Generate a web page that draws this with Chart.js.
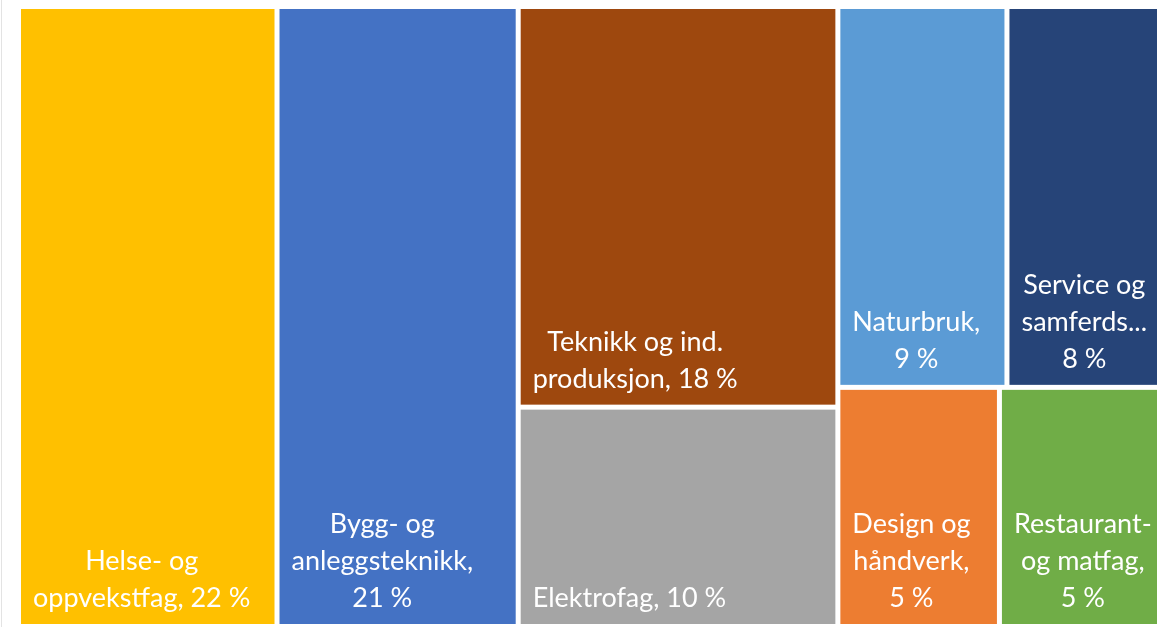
<!DOCTYPE html>
<html>
<head>
<meta charset="utf-8">
<script src="https://cdn.jsdelivr.net/npm/chart.js@4.4.1/dist/chart.umd.min.js"></script>
<style>
    html, body { margin: 0; padding: 0; background: #ffffff; overflow: hidden; }
    #frame { position: absolute; left: 1px; top: 0; width: 1px; height: 640px; background: #e3e3e3; }
    #wrap { position: absolute; left: 0; top: 0; width: 1170px; height: 630px; }
</style>
</head>
<body>
<div id="frame"></div>
<div id="wrap"><canvas id="treemap" width="1170" height="630"></canvas></div>
<script>
// Andel elever per utdanningsprogram (prosent)
// names as they are shown in the tiles (Excel cut the long one)
const categories = [
    'Helse- og oppvekstfag',
    'Bygg- og anleggsteknikk',
    'Teknikk og ind. produksjon',
    'Elektrofag',
    'Naturbruk',
    'Service og samferds...',
    'Design og håndverk',
    'Restaurant- og matfag'
];
const shares = [22.4, 20.9, 17.9, 9.8, 9.0, 8.2, 5.4, 5.4];
const tileColors = ['#FFC000', '#4472C4', '#9E480E', '#A5A5A5', '#5B9BD5', '#264478', '#ED7D31', '#70AD47'];

// how the tiles are grouped: columns, each column a list of rows of category indexes
const columns = [[[0]], [[1]], [[2], [3]], [[4, 5], [6, 7]]];

const sum = arr => arr.reduce((a, b) => a + b, 0);
const total = sum(shares);

// tiles in value units: x from 0..total, y from 0..1 (1 = top)
function layoutTiles() {
    const tiles = [];
    let x0 = 0;
    columns.forEach(col => {
        const colSum = sum(col.flat().map(i => shares[i]));
        let yTop = 1;
        col.forEach(row => {
            const rowSum = sum(row.map(i => shares[i]));
            const yBottom = yTop - rowSum / colSum;
            let xl = x0;
            row.forEach(i => {
                const xr = xl + colSum * shares[i] / rowSum;
                tiles.push({ index: i, x0: xl, x1: xr, y0: yBottom, y1: yTop });
                xl = xr;
            });
            yTop = yBottom;
        });
        x0 += colSum;
    });
    return tiles;
}

function wrapLabel(ctx, text, maxWidth) {
    const words = text.split(' ');
    const lines = [];
    let line = '';
    words.forEach(word => {
        let w = word;
        if (ctx.measureText(w).width > maxWidth) {
            // word too long for the tile: cut it
            let cut = w;
            while (cut.length > 1 && ctx.measureText(cut + '...').width > maxWidth) {
                cut = cut.slice(0, -1);
            }
            w = cut + '...';
        }
        const test = line ? line + ' ' + w : w;
        if (line && ctx.measureText(test).width > maxWidth) {
            lines.push(line);
            line = w;
        } else {
            line = test;
        }
    });
    if (line) lines.push(line);
    return lines;
}

const gap = 5;
const fontSize = 27;
const lineHeight = 37;
const textPad = 12;

const treemapPlugin = {
    id: 'treemapTiles',
    afterDraw(chart) {
        const ctx = chart.ctx;
        const xs = chart.scales.x;
        const ys = chart.scales.y;
        ctx.save();
        layoutTiles().forEach(t => {
            const left = xs.getPixelForValue(t.x0) + gap / 2;
            const right = xs.getPixelForValue(t.x1) - gap / 2;
            const top = ys.getPixelForValue(t.y1) + gap / 2;
            const bottom = ys.getPixelForValue(t.y0) - gap / 2;
            ctx.fillStyle = tileColors[t.index];
            ctx.fillRect(left, top, right - left, bottom - top);

            ctx.font = fontSize + 'px Lato';
            ctx.fillStyle = '#ffffff';
            ctx.textAlign = 'center';
            ctx.textBaseline = 'alphabetic';
            const name = categories[t.index];
            const sep = name.endsWith('...') ? ' ' : ', ';
            const label = name + sep + Math.round(shares[t.index]) + '\u00a0%';
            const lines = wrapLabel(ctx, label, right - left - 15);
            const blockWidth = Math.max(...lines.map(l => ctx.measureText(l).width));
            const cx = left + textPad + blockWidth / 2;
            let baseline = bottom - 17 - (lines.length - 1) * lineHeight;
            lines.forEach(l => {
                ctx.fillText(l, cx, baseline);
                baseline += lineHeight;
            });
        });
        ctx.restore();
    }
};

const chart = new Chart(document.getElementById('treemap').getContext('2d'), {
    type: 'scatter',
    data: { datasets: [] },
    options: {
        responsive: false,
        animation: false,
        layout: { padding: { left: 18.5, top: 6.5, right: 9, bottom: 3.5 } },
        plugins: {
            legend: { display: false },
            tooltip: { enabled: false }
        },
        scales: {
            x: { type: 'linear', min: 0, max: total, display: false },
            y: { type: 'linear', min: 0, max: 1, display: false }
        }
    },
    plugins: [treemapPlugin]
});
</script>
</body>
</html>
